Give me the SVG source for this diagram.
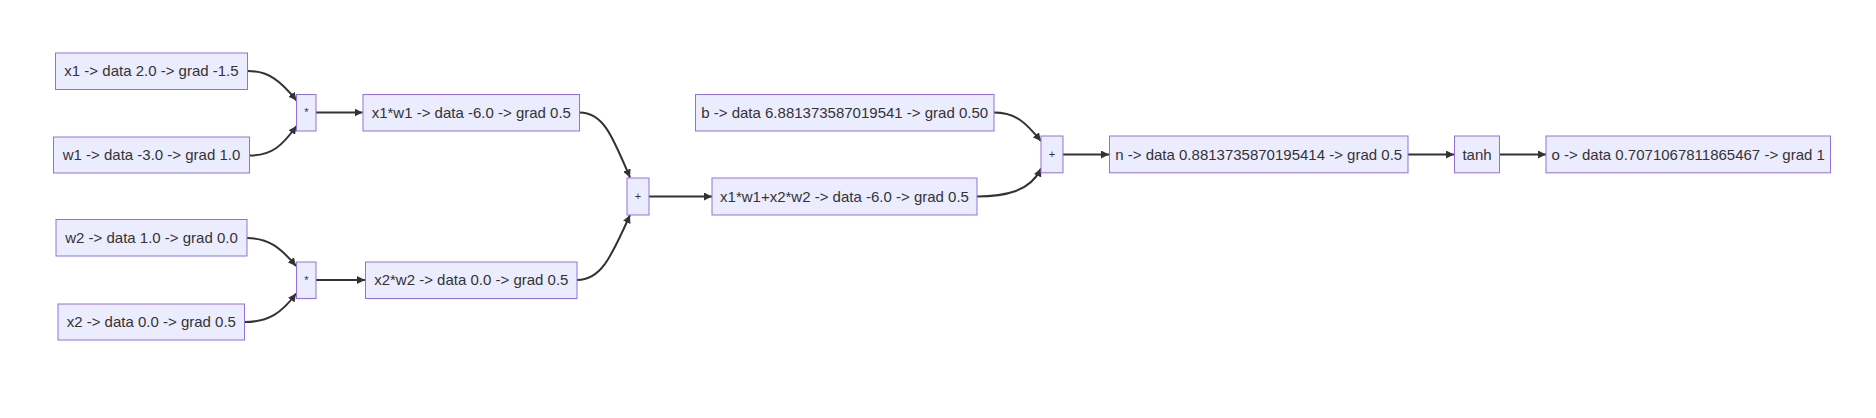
<svg xmlns="http://www.w3.org/2000/svg" width="1876" height="418" viewBox="0 0 1876 418">
<style>
.node rect{fill:#ECECFF;stroke:#9370DB;stroke-width:1}
.node text{font-family:"Liberation Sans",Arial,sans-serif;font-size:15px;fill:#333;text-anchor:middle}
.node text.op{font-size:11px}
.edges path{fill:none;stroke:#333;stroke-width:2}
</style>
<defs>
<marker id="arrow" viewBox="0 0 10 10" refX="10" refY="5" markerUnits="userSpaceOnUse" markerWidth="8" markerHeight="8" orient="auto">
<path d="M0,0 L10,5 L0,10 z" fill="#333"/>
</marker>
</defs>
<rect width="1876" height="418" fill="#ffffff"/>
<g id="edges" class="edges">
<path d="M247.5,71 C268,71 280,80 296.5,100.5" marker-end="url(#arrow)"/>
<path d="M249.5,155.5 C272,155.5 282,146 296.5,126" marker-end="url(#arrow)"/>
<path d="M316,112.5 L362.5,112.5" marker-end="url(#arrow)"/>
<path d="M247,238 C268,238 280,247 296,266" marker-end="url(#arrow)"/>
<path d="M244.5,322 C268,322 282,313 296,293.5" marker-end="url(#arrow)"/>
<path d="M316,280 L365,280" marker-end="url(#arrow)"/>
<path d="M579.5,112.5 C603,112.5 612,135 630,177.5" marker-end="url(#arrow)"/>
<path d="M577,280 C600,280 610,260 630,215" marker-end="url(#arrow)"/>
<path d="M649,196.5 L712,196.5" marker-end="url(#arrow)"/>
<path d="M994,112.5 C1016,112.5 1026,123 1041,141" marker-end="url(#arrow)"/>
<path d="M977,196.5 C1004,196.5 1030,192 1041,168.5" marker-end="url(#arrow)"/>
<path d="M1063,154.5 L1109,154.5" marker-end="url(#arrow)"/>
<path d="M1408,154.5 L1454,154.5" marker-end="url(#arrow)"/>
<path d="M1499,154.5 L1546,154.5" marker-end="url(#arrow)"/>
</g>
<g id="x1" class="node"><rect x="55.5" y="53" width="192" height="36.5"/><text x="151.5" y="76.2">x1 -&gt; data 2.0 -&gt; grad -1.5</text></g>
<g id="w1" class="node"><rect x="53.5" y="137" width="196" height="36"/><text x="151.5" y="160.2">w1 -&gt; data -3.0 -&gt; grad 1.0</text></g>
<g id="mul1" class="node"><rect x="296.5" y="94.5" width="19.5" height="36.5"/><text class="op" x="306.3" y="116.3">*</text></g>
<g id="x1w1" class="node"><rect x="363" y="94.5" width="216.5" height="36.5"/><text x="471.3" y="117.7">x1*w1 -&gt; data -6.0 -&gt; grad 0.5</text></g>
<g id="w2" class="node"><rect x="56" y="219.5" width="191" height="36.5"/><text x="151.5" y="242.9">w2 -&gt; data 1.0 -&gt; grad 0.0</text></g>
<g id="x2" class="node"><rect x="58" y="304" width="186.5" height="36"/><text x="151.3" y="327.2">x2 -&gt; data 0.0 -&gt; grad 0.5</text></g>
<g id="mul2" class="node"><rect x="296.5" y="262" width="19.5" height="36.5"/><text class="op" x="306.3" y="283.8">*</text></g>
<g id="x2w2" class="node"><rect x="365.5" y="262" width="211.5" height="36.5"/><text x="471.3" y="285.2">x2*w2 -&gt; data 0.0 -&gt; grad 0.5</text></g>
<g id="add1" class="node"><rect x="627" y="178" width="22" height="37"/><text class="op" x="638" y="200.4">+</text></g>
<g id="b" class="node"><rect x="695.5" y="94.5" width="298.5" height="36.5"/><text x="844.7" y="117.7">b -&gt; data 6.881373587019541 -&gt; grad 0.50</text></g>
<g id="sum" class="node"><rect x="712" y="178" width="265" height="37"/><text x="844.5" y="201.7">x1*w1+x2*w2 -&gt; data -6.0 -&gt; grad 0.5</text></g>
<g id="add2" class="node"><rect x="1041" y="136" width="22" height="36.8"/><text class="op" x="1052" y="158.3">+</text></g>
<g id="n" class="node"><rect x="1109.5" y="136" width="298.5" height="36.8"/><text x="1258.7" y="159.6">n -&gt; data 0.8813735870195414 -&gt; grad 0.5</text></g>
<g id="tanh" class="node"><rect x="1454.5" y="136" width="45" height="36.8"/><text x="1477" y="159.6">tanh</text></g>
<g id="o" class="node"><rect x="1546" y="136" width="284.5" height="36.8"/><text x="1688.2" y="159.6">o -&gt; data 0.7071067811865467 -&gt; grad 1</text></g>
</svg>
